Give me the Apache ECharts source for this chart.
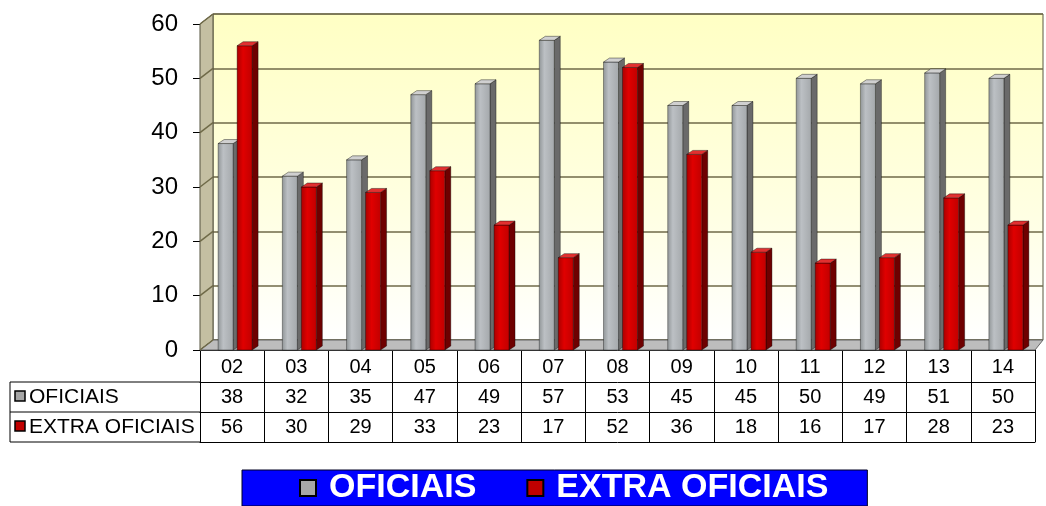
<!DOCTYPE html>
<html>
<head>
<meta charset="utf-8">
<script src="https://cdn.jsdelivr.net/npm/echarts@6/dist/echarts.min.js"></script>
<style>
  html, body { margin: 0; padding: 0; background: #fff; }
  #chart { width: 1046px; height: 506px; }
</style>
</head>
<body>
<div id="chart"></div>
<script>
// dados
const anos = ['02', '03', '04', '05', '06', '07', '08', '09', '10', '11', '12', '13', '14'];
const oficiais = [38, 32, 35, 47, 49, 57, 53, 45, 45, 50, 49, 51, 50];
const extraOficiais = [56, 30, 29, 33, 23, 17, 52, 36, 18, 16, 17, 28, 23];
const yTicks = [0, 10, 20, 30, 40, 50, 60];

const FONT = 'Liberation Sans, Arial, sans-serif';
const gridLine = '#6f6a48';

let myChart = echarts.init(document.getElementById('chart'));

// barra "3D": frente + lateral + topo
function barItem(offset, front, side, top) {
  return function (params, api) {
    const i = api.value(0);
    const v = api.value(1);
    const t = api.coord([i, v]);
    const b = api.coord([i, 0]);
    const w = 15, dx = 6, dy = 4;
    const x0 = t[0] + offset;
    const yT = t[1], yB = b[1];
    return {
      type: 'group',
      children: [
        {
          type: 'polygon',
          shape: { points: [[x0 + w, yT], [x0 + w + dx, yT - dy], [x0 + w + dx, yB - dy], [x0 + w, yB]] },
          style: { fill: side, stroke: 'rgba(0,0,0,0.45)', lineWidth: 0.8 }
        },
        {
          type: 'rect',
          shape: { x: x0, y: yT, width: w, height: yB - yT },
          style: { fill: front, stroke: 'rgba(0,0,0,0.45)', lineWidth: 0.8 }
        },
        {
          type: 'polygon',
          shape: { points: [[x0, yT], [x0 + dx, yT - dy], [x0 + w + dx, yT - dy], [x0 + w, yT]] },
          style: { fill: top, stroke: 'rgba(0,0,0,0.5)', lineWidth: 0.8 }
        }
      ]
    };
  };
}

// paredes e chao
function decorItem(params, api) {
  const cs = params.coordSys;
  const x = cs.x, y = cs.y, w = cs.width, h = cs.height;
  const children = [
    {
      type: 'polygon',
      shape: { points: [[x, y], [x + 13, y - 10], [x + 13, y + h - 10], [x, y + h]] },
      style: { fill: '#c4bfa2', stroke: '#55533f', lineWidth: 1 }
    },
    {
      type: 'polygon',
      shape: { points: [[x, y + h], [x + 13, y + h - 10], [x + w + 8, y + h - 10], [x + w, y + h]] },
      style: { fill: '#bdbdbd', stroke: '#666', lineWidth: 1 }
    }
  ];
  yTicks.forEach(function (v) {
    const p = api.coord([0, v]);
    children.push({
      type: 'line',
      shape: { x1: x, y1: p[1], x2: x + 13, y2: p[1] - 10 },
      style: { stroke: gridLine, lineWidth: 1.5 }
    });
  });
  return { type: 'group', children: children };
}

const rowTop = 350;
const rowH = [32, 30, 30];

let option = {
  backgroundColor: '#fff',
  animation: false,
  textStyle: { fontFamily: FONT },
  grid: [
    { left: 200, right: 11, top: 24, bottom: 156 },
    {
      left: 213, right: 3, top: 14, bottom: 166, show: true,
      borderColor: '#5a5740', borderWidth: 1,
      backgroundColor: new echarts.graphic.LinearGradient(0, 0, 0, 1, [
        { offset: 0, color: '#ffffc4' },
        { offset: 0.6, color: '#ffffe2' },
        { offset: 1, color: '#ffffff' }
      ])
    }
  ],
  legend: {
    data: ['OFICIAIS', 'EXTRA OFICIAIS'],
    left: 242,
    top: 470,
    padding: [0, 39, 0, 57],
    itemGap: 50,
    itemWidth: 16,
    itemHeight: 16,
    icon: 'rect',
    itemStyle: { borderColor: '#000', borderWidth: 2 },
    backgroundColor: '#0000ff',
    borderColor: '#000022',
    borderWidth: 1,
    textStyle: {
      color: '#fff', fontSize: 34, fontWeight: 'bold', fontFamily: FONT,
      lineHeight: 36, padding: [0, 0, 0, 8]
    }
  },
  xAxis: [
    {
      type: 'category', gridIndex: 0, data: anos, position: 'bottom',
      axisLine: { lineStyle: { color: '#000', width: 1 } },
      axisTick: { show: true, interval: 0, length: 92, lineStyle: { color: '#000' } },
      axisLabel: { interval: 0, margin: 7, color: '#000', fontSize: 20, fontFamily: FONT }
    },
    {
      type: 'category', gridIndex: 0, data: anos, position: 'bottom', offset: rowH[0],
      axisLine: { lineStyle: { color: '#000', width: 1 } },
      axisTick: { show: false },
      axisLabel: {
        interval: 0, margin: 5, color: '#000', fontSize: 20, fontFamily: FONT,
        formatter: function (v, idx) { return String(oficiais[idx]); }
      }
    },
    {
      type: 'category', gridIndex: 0, data: anos, position: 'bottom', offset: rowH[0] + rowH[1],
      axisLine: { lineStyle: { color: '#000', width: 1 } },
      axisTick: { show: false },
      axisLabel: {
        interval: 0, margin: 5, color: '#000', fontSize: 20, fontFamily: FONT,
        formatter: function (v, idx) { return String(extraOficiais[idx]); }
      }
    },
    {
      type: 'category', gridIndex: 0, data: anos, position: 'bottom', offset: rowH[0] + rowH[1] + rowH[2],
      axisLine: { lineStyle: { color: '#000', width: 1 } },
      axisTick: { show: false },
      axisLabel: { show: false }
    },
    { type: 'category', gridIndex: 1, data: anos, show: false }
  ],
  yAxis: [
    {
      type: 'value', gridIndex: 0, min: 0, max: 60, interval: 10,
      axisLine: { show: true, lineStyle: { color: '#333' } },
      axisTick: { show: true, length: 7, lineStyle: { color: '#000' } },
      axisLabel: { margin: 22, color: '#000', fontSize: 24, fontFamily: FONT },
      splitLine: { show: false }
    },
    {
      type: 'value', gridIndex: 1, min: 0, max: 60, interval: 10,
      axisLine: { show: false }, axisTick: { show: false }, axisLabel: { show: false },
      splitLine: { show: true, lineStyle: { color: gridLine, width: 1.5 } }
    }
  ],
  graphic: [
    { type: 'line', shape: { x1: 10, y1: rowTop + rowH[0], x2: 200, y2: rowTop + rowH[0] }, style: { stroke: '#000', lineWidth: 1 } },
    { type: 'line', shape: { x1: 10, y1: rowTop + rowH[0] + rowH[1], x2: 200, y2: rowTop + rowH[0] + rowH[1] }, style: { stroke: '#000', lineWidth: 1 } },
    { type: 'line', shape: { x1: 10, y1: rowTop + rowH[0] + rowH[1] + rowH[2], x2: 200, y2: rowTop + rowH[0] + rowH[1] + rowH[2] }, style: { stroke: '#000', lineWidth: 1 } },
    { type: 'line', shape: { x1: 10, y1: rowTop + rowH[0], x2: 10, y2: rowTop + rowH[0] + rowH[1] + rowH[2] }, style: { stroke: '#000', lineWidth: 1 } },
    { type: 'rect', shape: { x: 15, y: 391, width: 10, height: 10 }, style: { fill: '#a6a6a6', stroke: '#000', lineWidth: 1.5 } },
    { type: 'text', x: 29, y: 397, style: { text: 'OFICIAIS', fontSize: 21, fontFamily: FONT, fill: '#000', verticalAlign: 'middle' } },
    { type: 'rect', shape: { x: 15, y: 421, width: 10, height: 10 }, style: { fill: '#c00000', stroke: '#000', lineWidth: 1.5 } },
    { type: 'text', x: 29, y: 427, style: { text: 'EXTRA OFICIAIS', fontSize: 21, fontFamily: FONT, fill: '#000', verticalAlign: 'middle' } }
  ],
  series: [
    {
      type: 'custom', name: 'decor', xAxisIndex: 0, yAxisIndex: 0, z: 1, silent: true,
      renderItem: decorItem,
      data: [[0, 0]]
    },
    {
      type: 'custom', name: 'OFICIAIS', xAxisIndex: 0, yAxisIndex: 0, z: 3,
      itemStyle: { color: '#a6a6a6' },
      renderItem: barItem(-14,
        new echarts.graphic.LinearGradient(0, 0, 1, 0, [
          { offset: 0, color: '#8f9496' }, { offset: 0.35, color: '#bcc0c4' }, { offset: 1, color: '#a4a8ab' }
        ]),
        '#6a6a6a', '#d0d0d0'),
      data: oficiais.map(function (v, i) { return [i, v]; })
    },
    {
      type: 'custom', name: 'EXTRA OFICIAIS', xAxisIndex: 0, yAxisIndex: 0, z: 3,
      itemStyle: { color: '#c00000' },
      renderItem: barItem(5,
        new echarts.graphic.LinearGradient(0, 0, 1, 0, [
          { offset: 0, color: '#a80000' }, { offset: 0.4, color: '#e00000' }, { offset: 1, color: '#c00000' }
        ]),
        '#6e0000', '#e23030'),
      data: extraOficiais.map(function (v, i) { return [i, v]; })
    }
  ]
};

myChart.setOption(option);
</script>
</body>
</html>
